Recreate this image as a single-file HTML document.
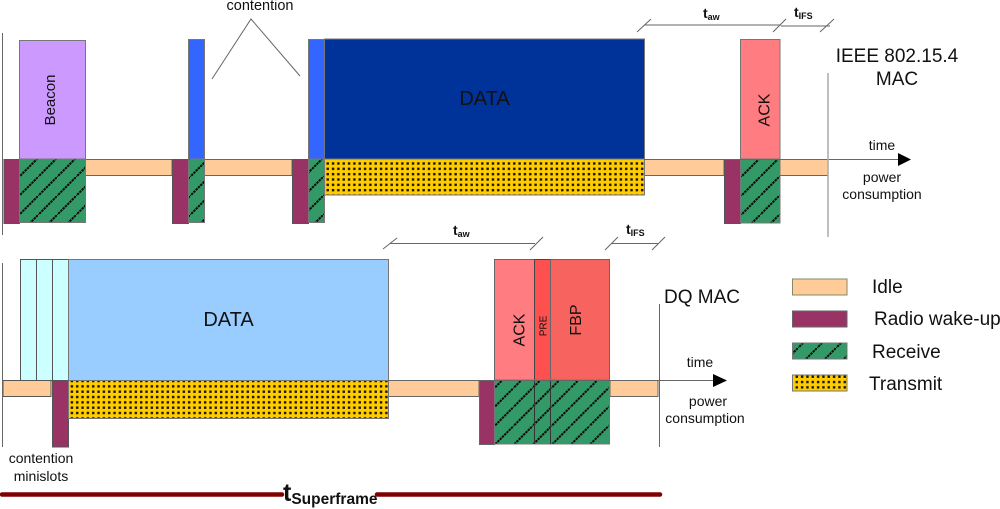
<!DOCTYPE html>
<html><head><meta charset="utf-8"><style>
html,body{margin:0;padding:0;background:#fff}
svg{display:block}
text{font-family:"Liberation Sans",sans-serif;fill:#111}
.b{font-weight:bold}
</style></head><body>
<svg width="1000" height="509" viewBox="0 0 1000 509" xmlns="http://www.w3.org/2000/svg">
<defs>
<pattern id="h" patternUnits="userSpaceOnUse" width="19" height="19" y="6" x="0">
<rect width="19" height="19" fill="#339966"/>
<path d="M-1 20L20 -1" stroke="#0a0a0a" stroke-width="2" stroke-dasharray="2.4 0.8"/>
</pattern>
<pattern id="h2" patternUnits="userSpaceOnUse" width="19" height="19" y="8.5" x="0">
<rect width="19" height="19" fill="#339966"/>
<path d="M-1 20L20 -1" stroke="#0a0a0a" stroke-width="2" stroke-dasharray="2.4 0.8"/>
</pattern>
<pattern id="d" patternUnits="userSpaceOnUse" width="5.33" height="5.33" x="0" y="1">
<rect width="5.33" height="5.33" fill="#ffcc00"/>
<rect x="1.4" y="1.4" width="2.4" height="2.4" fill="#1a1400"/>
</pattern>
<pattern id="d2" patternUnits="userSpaceOnUse" width="5.33" height="5.33" x="0" y="0">
<rect width="5.33" height="5.33" fill="#ffcc00"/>
<rect x="1.4" y="1.4" width="2.4" height="2.4" fill="#1a1400"/>
</pattern>
</defs>
<g stroke="#777" stroke-width="1">
<!-- top row -->
<rect x="19.5" y="40.5" width="66" height="118.5" fill="#cc99ff"/>
<rect x="188.5" y="39.5" width="16" height="120" fill="#3366ff"/>
<rect x="308.5" y="39.5" width="16" height="120" fill="#3366ff"/>
<rect x="324.5" y="39" width="320" height="120" fill="#003399"/>
<rect x="740.5" y="39.5" width="39.5" height="120" fill="#ff7c80"/>
<rect x="85" y="159.5" width="87" height="16" fill="#ffcc99" stroke="#666"/>
<rect x="204" y="159.5" width="88" height="16" fill="#ffcc99" stroke="#666"/>
<rect x="644" y="159.5" width="80" height="16" fill="#ffcc99" stroke="#666"/>
<rect x="780" y="159.5" width="48" height="16" fill="#ffcc99" stroke="#666"/>
<rect x="4" y="159.5" width="15.5" height="64" fill="#993366" stroke="#555"/>
<rect x="172.5" y="159.5" width="16" height="64" fill="#993366" stroke="#555"/>
<rect x="292.5" y="159.5" width="16" height="64" fill="#993366" stroke="#555"/>
<rect x="724.5" y="159.5" width="16" height="64" fill="#993366" stroke="#555"/>
<rect x="19.5" y="159" width="66" height="63.5" fill="url(#h)"/>
<rect x="188.5" y="159" width="16" height="63.5" fill="url(#h)"/>
<rect x="308.5" y="159" width="16" height="63.5" fill="url(#h)"/>
<rect x="740.5" y="159" width="39.5" height="64" fill="url(#h)"/>
<rect x="324.5" y="159" width="320" height="36" fill="url(#d)"/>
<!-- bottom row -->
<rect x="20.500" y="259.500" width="16" height="121" fill="#ccffff" stroke="#555"/>
<rect x="36.500" y="259.500" width="16" height="121" fill="#ccffff" stroke="#555"/>
<rect x="52.500" y="259.500" width="16" height="121" fill="#ccffff" stroke="#555"/>
<rect x="68.500" y="259.500" width="320" height="121" fill="#99ccff"/>
<rect x="494.500" y="259.500" width="40" height="120.500" fill="#ff7c80" stroke="#666"/>
<rect x="534.500" y="259.500" width="16" height="120.500" fill="#ff5050" stroke="#444"/>
<rect x="550.500" y="259.500" width="59" height="120.500" fill="#f7645f" stroke="#666"/>
<rect x="3" y="380.500" width="48" height="16" fill="#ffcc99" stroke="#555"/>
<rect x="388" y="380.500" width="91" height="16" fill="#ffcc99" stroke="#666"/>
<rect x="610" y="380.500" width="48" height="16" fill="#ffcc99" stroke="#666"/>
<rect x="52.500" y="380.500" width="16" height="66.500" fill="#993366" stroke="#555"/>
<rect x="479.500" y="380.500" width="15" height="64" fill="#993366" stroke="#666"/>
<rect x="68.500" y="380.500" width="320" height="38" fill="url(#d2)"/>
<rect x="494.500" y="380" width="115" height="64" fill="url(#h2)"/>
<path d="M534.500 380V444M550.500 380V444" stroke="#333" fill="none"/>
<!-- legend -->
<rect x="792.500" y="279" width="54.500" height="16" fill="#ffcc99" stroke="#886"/>
<rect x="792.500" y="311" width="54.500" height="16" fill="#993366" stroke="#666"/>
<rect x="792.500" y="343" width="54.500" height="16" fill="url(#h)"/>
<rect x="792.500" y="375" width="54.500" height="16" fill="url(#d)"/>
</g>
<!-- lines -->
<g fill="none" stroke="#666" stroke-width="1">
<path d="M2.500 33V235M2.500 263V447"/>
<path d="M212 79L251 19L300 76"/>
<path d="M637 32L651 19M644 25H781M773 32L786 19M781 26H830M820 32L834 19"/>
<path d="M383 249L397 238M390 243.500H535M530 250L543 237M605 250L618 237M612 243.500H658M652 250L665 237"/>
<path d="M659.500 304V447"/>
<path d="M644 159.500H898M388 380.500H713"/>
</g>
<path d="M828 73V237" stroke="#aaa" stroke-width="1.500" fill="none"/>
<path d="M898 153L911 159.500L898 166Z" fill="#000"/>
<path d="M713 374L727 380.500L713 387Z" fill="#000"/>
<path d="M2 494.500H282M377 494.500H660" stroke="#800000" stroke-width="4.500" stroke-linecap="round" fill="none"/>
<!-- labels -->
<text x="0" y="0" font-size="15" text-anchor="middle" transform="translate(55 100) rotate(-90)">Beacon</text>
<text x="260" y="10" font-size="14.500" text-anchor="middle">contention</text>
<text x="484.500" y="105" font-size="20" text-anchor="middle">DATA</text>
<text x="0" y="0" font-size="16" text-anchor="middle" transform="translate(769.500 110) rotate(-90)">ACK</text>
<text x="703" y="18" font-size="14" class="b">t<tspan font-size="9" dy="2">aw</tspan></text>
<text x="794" y="17" font-size="14" class="b">t<tspan font-size="9" dy="2">IFS</tspan></text>
<text x="897" y="62" font-size="19" text-anchor="middle">IEEE 802.15.4</text>
<text x="897" y="85" font-size="19" text-anchor="middle">MAC</text>
<text x="882" y="150" font-size="14" text-anchor="middle">time</text>
<text x="882" y="182" font-size="14" text-anchor="middle">power</text>
<text x="882" y="199" font-size="14" text-anchor="middle">consumption</text>
<text x="228.500" y="326" font-size="20" text-anchor="middle">DATA</text>
<text x="41" y="463" font-size="14" text-anchor="middle">contention</text>
<text x="41" y="481" font-size="14" text-anchor="middle">minislots</text>
<text x="453" y="235" font-size="14" class="b">t<tspan font-size="9" dy="2">aw</tspan></text>
<text x="626" y="234" font-size="14" class="b">t<tspan font-size="9" dy="2">IFS</tspan></text>
<text x="0" y="0" font-size="16" text-anchor="middle" transform="translate(524.500 330) rotate(-90)">ACK</text>
<text x="0" y="0" font-size="10" text-anchor="middle" transform="translate(546.500 326) rotate(-90)">PRE</text>
<text x="0" y="0" font-size="16" text-anchor="middle" transform="translate(581 320) rotate(-90)">FBP</text>
<text x="664" y="303" font-size="19">DQ MAC</text>
<text x="700" y="367" font-size="14" text-anchor="middle">time</text>
<text x="708" y="406" font-size="14" text-anchor="middle">power</text>
<text x="705" y="423" font-size="14" text-anchor="middle">consumption</text>
<text x="872" y="293" font-size="19">Idle</text>
<text x="874" y="325" font-size="19">Radio wake-up</text>
<text x="872" y="358" font-size="19">Receive</text>
<text x="869" y="390" font-size="19">Transmit</text>
<text x="283" y="501" font-size="25" class="b">t<tspan font-size="15.500" dy="3">Superframe</tspan></text>
</svg>
</body></html>
